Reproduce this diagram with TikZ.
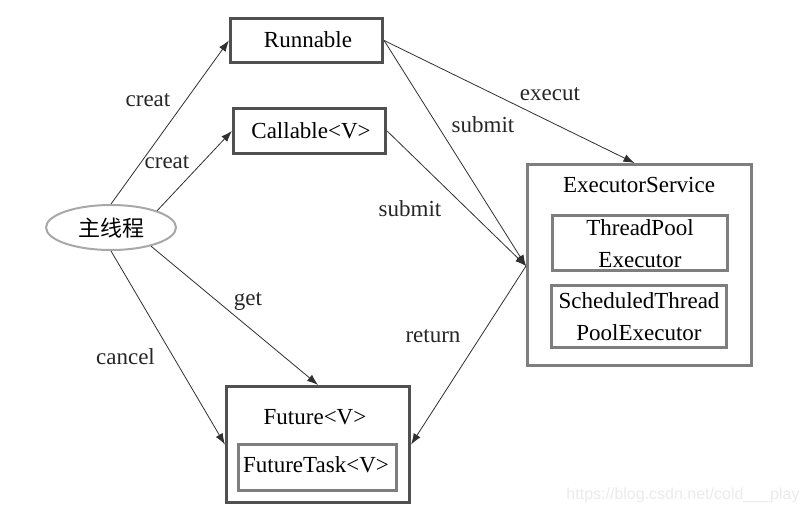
\documentclass[tikz,border=0pt]{standalone}
\usepackage{fontspec}
\setmainfont{Liberation Serif}
\newfontfamily\cjk{Noto Sans CJK SC}
\newfontfamily\wmfont{Liberation Sans}
\usetikzlibrary{arrows.meta,shapes.geometric}
\definecolor{boxdark}{HTML}{505050}
\definecolor{boxmid}{HTML}{7E7E7E}
\definecolor{ellgray}{HTML}{A8A8A8}
\definecolor{linecol}{HTML}{303030}
\tikzset{
  txt/.style={font=\fontsize{23}{32}\selectfont, inner sep=0pt, text=black},
  darkbox/.style={draw=boxdark, line width=3.2pt, rectangle, inner sep=0pt},
  midbox/.style={draw=boxmid, line width=3pt, rectangle, inner sep=0pt},
  conn/.style={draw=linecol, line width=0.8pt, -{Latex[length=11pt,width=8pt]}},
  lbl/.style={font=\fontsize{23}{26}\selectfont, inner sep=0pt, text=black!85}
}
\begin{document}
\begin{tikzpicture}[x=1pt,y=-1pt]
\useasboundingbox[fill=white] (0,0) rectangle (808,513);
% nodes
\node[darkbox, minimum width=152pt, minimum height=44pt] (run) at (306.5,40.5) {};
\node[txt] (runt) at (308,40) {Runnable};
\node[darkbox, minimum width=152pt, minimum height=45pt] (call) at (309.5,131) {};
\node[txt] (callt) at (311,131) {Callable<V>};
\node[ellipse, draw=ellgray, line width=2pt, minimum width=130pt, minimum height=45pt, inner sep=0pt] (main) at (111,227.5) {};
\node[font=\cjk\fontsize{22}{26}\selectfont, inner sep=0pt] (maint) at (111,228) {主线程};
\node[midbox, minimum width=224pt, minimum height=201pt] (es) at (639.5,265) {};
\node[txt] (est) at (639,185) {ExecutorService};
\node[midbox, minimum width=175pt, minimum height=55pt] (tp) at (640,243) {};
\node[txt, align=center] (tpt) at (640,244) {ThreadPool\\Executor};
\node[midbox, minimum width=175pt, minimum height=62pt] (stp) at (639,316.5) {};
\node[txt, align=center] (stpt) at (639,317) {ScheduledThread\\PoolExecutor};
\node[darkbox, minimum width=183pt, minimum height=116pt] (fut) at (318,444.5) {};
\node[txt] (futt) at (315,417) {Future<V>};
\node[midbox, minimum width=158pt, minimum height=46pt] (ft) at (317.5,467.5) {};
\node[txt] (ftt) at (316,465) {FutureTask<V>};
% connectors
\draw[conn] (main.north) -- (run.west);
\draw[conn] (main.20) -- (call.west);
\draw[conn] (run.east) -- ([xshift=-5pt]es.north);
\draw[conn] (run.east) -- ([yshift=-1pt]es.west);
\draw[conn] (call.east) -- ([yshift=-1pt]es.west);
\draw[conn] ([yshift=-1pt]es.west) -- (fut.east);
\draw[conn] (main.-25) -- (fut.north);
\draw[conn] (main.south) -- (fut.west);
% labels
\node[lbl] (l1) at (148,100) {creat};
\node[lbl] (l2) at (167,162) {creat};
\node[lbl] (l3) at (550,94) {execut};
\node[lbl] (l4) at (483,125) {submit};
\node[lbl] (l5) at (410,209) {submit};
\node[lbl] (l6) at (433,336) {return};
\node[lbl] (l7) at (248,302) {get};
\node[lbl] (l8) at (125.5,357) {cancel};
% watermark
\node[font=\wmfont\fontsize{16}{18}\selectfont, text=black!8, inner sep=0pt] (wm) at (683,495) {https://blog.csdn.net/cold\_\_\_play};
\end{tikzpicture}
\end{document}
